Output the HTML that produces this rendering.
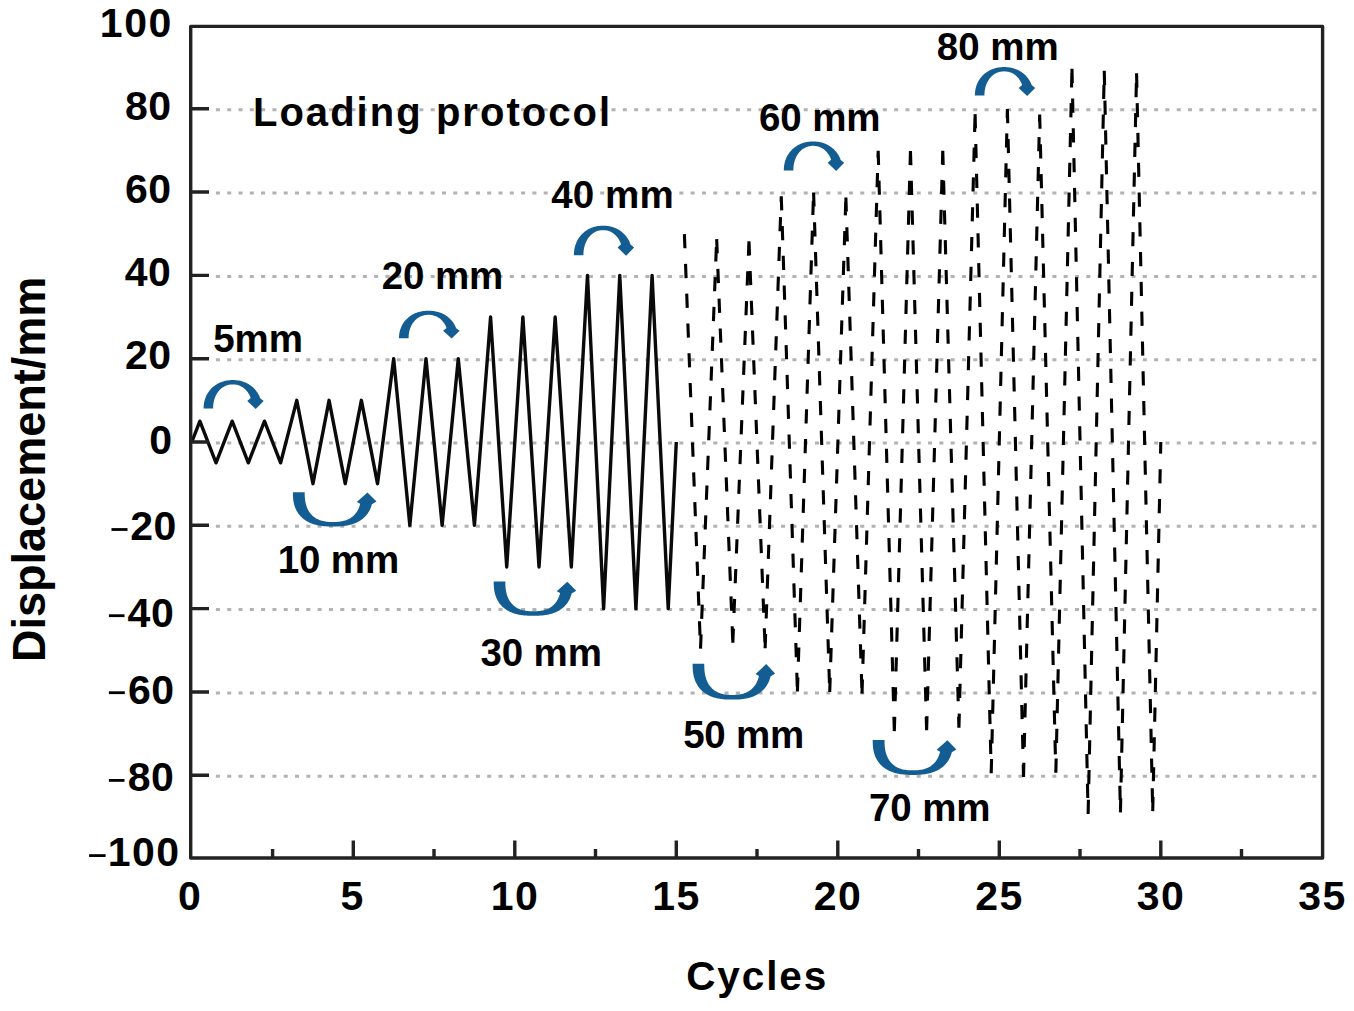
<!DOCTYPE html>
<html><head><meta charset="utf-8"><style>html,body{margin:0;padding:0;background:#fff;overflow:hidden}svg{display:block}</style></head>
<body><svg width="1354" height="1011" viewBox="0 0 1354 1011">
<rect width="1354" height="1011" fill="#fff"/>
<path d="M215.9 109.7H1319 M215.9 193.0H1319 M215.9 276.4H1319 M215.9 359.7H1319 M215.9 443.0H1319 M215.9 526.3H1319 M215.9 609.6H1319 M215.9 693.0H1319 M215.9 776.3H1319" stroke="#b2b2b2" stroke-width="3" stroke-dasharray="4 7.304" fill="none"/>
<polyline points="191.80,442.00 199.88,421.17 216.03,462.83 232.18,421.17 248.32,462.83 264.48,421.17 280.62,462.83 296.77,400.34 312.93,483.66 329.07,400.34 345.23,483.66 361.38,400.34 377.52,483.66 393.67,358.68 409.82,525.32 425.98,358.68 442.12,525.32 458.27,358.68 474.43,525.32 490.57,317.02 506.72,566.98 522.88,317.02 539.02,566.98 555.17,317.02 571.33,566.98 587.47,275.36 603.62,608.64 619.77,275.36 635.92,608.64 652.08,275.36 668.22,608.64 676.30,442.00" stroke="#0a0a0a" stroke-width="3.4" fill="none" stroke-linejoin="round"/>
<path d="M684.38 234.12L700.52 648.63 M700.52 648.63L716.67 239.12 M716.67 239.12L732.83 642.80 M732.83 642.80L748.97 241.20 M748.97 241.20L765.12 648.22 M765.12 648.22L781.27 196.21 M781.27 196.21L797.42 691.54 M797.42 691.54L813.58 192.46 M813.58 192.46L829.72 691.96 M829.72 691.96L845.88 197.46 M845.88 197.46L862.02 693.63 M862.02 693.63L878.17 150.80 M878.17 150.80L894.33 731.12 M894.33 731.12L910.47 151.00 M910.47 151.00L926.62 730.29 M926.62 730.29L942.77 150.80 M942.77 150.80L958.92 727.79 M958.92 727.79L975.08 114.14 M975.08 114.14L991.22 773.20 M991.22 773.20L1007.38 109.14 M1007.38 109.14L1023.52 776.95 M1023.52 776.95L1039.67 114.55 M1039.67 114.55L1055.83 772.78 M1055.83 772.78L1071.97 68.73 M1071.97 68.73L1088.12 814.02 M1088.12 814.02L1104.27 70.81 M1104.27 70.81L1120.42 812.36 M1120.42 812.36L1136.57 73.31 M1136.57 73.31L1152.72 811.11 M1152.72 811.11L1160.80 442.00" stroke="#000" stroke-width="3.1" fill="none" stroke-dasharray="14.2 15.6"/>
<rect x="190.7" y="26.4" width="1131.9" height="831.6" fill="none" stroke="#222" stroke-width="3.4" stroke-linejoin="round"/>
<path d="M190.7 108.7H209 M190.7 192.0H209 M190.7 275.4H209 M190.7 358.7H209 M190.7 442.0H209 M190.7 525.3H209 M190.7 608.6H209 M190.7 692.0H209 M190.7 775.3H209 M353.3 858.0V840.6 M514.8 858.0V840.6 M676.3 858.0V840.6 M837.8 858.0V840.6 M999.3 858.0V840.6 M1160.8 858.0V840.6 M272.6 858.0V849 M434.0 858.0V849 M595.5 858.0V849 M757.0 858.0V849 M918.5 858.0V849 M1080.0 858.0V849 M1241.5 858.0V849" stroke="#222" stroke-width="3.4" fill="none"/>
<polygon points="203.60,408.51 203.62,407.21 203.69,405.99 203.79,404.81 203.94,403.65 204.13,402.52 204.37,401.40 204.64,400.30 204.96,399.23 205.32,398.17 205.72,397.13 206.16,396.11 206.63,395.12 207.15,394.15 207.71,393.20 208.30,392.28 208.93,391.38 209.59,390.51 210.29,389.68 211.03,388.87 211.79,388.09 212.59,387.34 213.42,386.62 214.29,385.94 215.18,385.29 216.09,384.68 217.04,384.10 218.01,383.56 219.01,383.06 220.03,382.59 221.07,382.16 222.14,381.77 223.22,381.43 224.33,381.12 225.46,380.85 226.60,380.62 227.77,380.43 228.95,380.29 230.17,380.18 231.41,380.12 232.75,380.10 234.08,380.12 235.33,380.18 236.54,380.29 237.73,380.43 238.90,380.62 240.04,380.85 241.17,381.12 242.27,381.43 243.36,381.77 244.43,382.16 245.47,382.59 246.49,383.06 247.49,383.56 248.46,384.10 249.40,384.68 250.32,385.29 251.21,385.94 252.07,386.62 252.90,387.34 253.70,388.09 254.47,388.87 255.20,389.68 255.90,390.51 256.57,391.38 257.20,392.28 257.79,393.20 258.35,394.15 258.86,395.12 259.34,396.11 259.78,397.13 260.18,398.17 263.70,400.99 255.71,409.00 247.23,400.99 250.68,397.98 250.36,397.13 250.01,396.31 249.63,395.50 249.23,394.72 248.81,393.96 248.36,393.22 247.89,392.51 247.39,391.82 246.88,391.16 246.34,390.53 245.78,389.92 245.20,389.34 244.60,388.79 243.98,388.27 243.34,387.78 242.68,387.32 242.01,386.89 241.32,386.49 240.62,386.13 239.90,385.80 239.17,385.50 238.42,385.24 237.67,385.01 236.89,384.82 236.11,384.66 235.31,384.54 234.49,384.45 233.65,384.39 232.75,384.38 231.85,384.39 231.01,384.45 230.19,384.54 229.39,384.66 228.60,384.82 227.83,385.01 227.07,385.24 226.33,385.50 225.59,385.80 224.88,386.13 224.17,386.49 223.48,386.89 222.81,387.32 222.16,387.78 221.52,388.27 220.90,388.79 220.30,389.34 219.72,389.92 219.16,390.53 218.62,391.16 218.10,391.82 217.61,392.51 217.14,393.22 216.69,393.96 216.26,394.72 215.86,395.50 215.49,396.31 215.14,397.13 214.82,397.98 214.52,398.84 214.25,399.72 214.01,400.62 213.80,401.54 213.61,402.47 213.46,403.42 213.33,404.39 213.23,405.37 213.15,406.37 213.11,407.40 213.10,408.51" fill="#135d93"/>
<polygon points="292.90,492.20 292.92,494.77 293.00,496.68 293.12,498.39 293.30,499.98 293.52,501.48 293.79,502.91 294.11,504.28 294.48,505.61 294.90,506.88 295.36,508.11 295.88,509.29 296.44,510.44 297.05,511.54 297.70,512.61 298.40,513.63 299.15,514.62 299.95,515.57 300.79,516.48 301.68,517.36 302.61,518.19 303.59,518.99 304.61,519.75 305.68,520.47 306.79,521.15 307.94,521.79 309.14,522.39 310.39,522.95 311.68,523.48 313.02,523.96 314.41,524.39 315.84,524.79 317.33,525.15 318.87,525.47 320.48,525.74 322.15,525.97 323.91,526.16 325.77,526.31 327.77,526.42 329.99,526.48 333.00,526.50 336.01,526.48 338.24,526.42 340.24,526.31 342.09,526.16 343.85,525.97 345.53,525.74 347.13,525.47 348.68,525.15 350.16,524.79 351.60,524.39 352.99,523.96 354.32,523.48 355.62,522.95 356.86,522.39 358.06,521.79 359.22,521.15 360.33,520.47 361.40,519.75 362.42,518.99 363.40,518.19 364.33,517.36 365.21,516.48 366.06,515.57 366.85,514.62 367.60,513.63 368.30,512.61 368.96,511.54 369.57,510.44 370.13,509.29 370.64,508.11 371.11,506.88 371.53,505.61 371.90,504.28 376.50,501.50 367.50,492.50 356.75,501.90 360.19,503.85 359.89,504.95 359.56,506.02 359.20,507.05 358.81,508.04 358.38,509.00 357.91,509.93 357.42,510.82 356.89,511.68 356.33,512.51 355.73,513.30 355.11,514.06 354.45,514.78 353.76,515.48 353.04,516.14 352.29,516.76 351.50,517.35 350.69,517.91 349.84,518.43 348.96,518.92 348.05,519.37 347.10,519.79 346.13,520.17 345.11,520.52 344.06,520.83 342.97,521.10 341.84,521.34 340.66,521.54 339.42,521.71 338.11,521.83 336.70,521.93 335.13,521.98 333.00,522.00 330.88,521.98 329.31,521.93 327.90,521.83 326.59,521.71 325.35,521.54 324.17,521.34 323.03,521.10 321.94,520.83 320.89,520.52 319.88,520.17 318.90,519.79 317.96,519.37 317.05,518.92 316.17,518.43 315.32,517.91 314.50,517.35 313.72,516.76 312.97,516.14 312.25,515.48 311.56,514.78 310.90,514.06 310.27,513.30 309.68,512.51 309.12,511.68 308.59,510.82 308.09,509.93 307.63,509.00 307.20,508.04 306.80,507.05 306.44,506.02 306.11,504.95 305.82,503.85 305.56,502.70 305.33,501.51 305.14,500.26 304.98,498.96 304.86,497.57 304.77,496.09 304.72,494.44 304.70,492.20" fill="#135d93"/>
<polygon points="399.00,338.13 399.02,336.87 399.09,335.70 399.19,334.56 399.35,333.44 399.54,332.34 399.78,331.26 400.05,330.20 400.37,329.16 400.74,328.14 401.14,327.14 401.58,326.16 402.06,325.20 402.59,324.26 403.15,323.35 403.75,322.46 404.38,321.59 405.05,320.75 405.76,319.94 406.50,319.16 407.28,318.41 408.08,317.69 408.92,317.00 409.79,316.34 410.69,315.71 411.62,315.12 412.57,314.56 413.56,314.04 414.56,313.55 415.59,313.10 416.65,312.69 417.72,312.32 418.82,311.98 419.94,311.68 421.07,311.42 422.23,311.20 423.41,311.02 424.61,310.88 425.83,310.78 427.09,310.72 428.44,310.70 429.79,310.72 431.05,310.78 432.27,310.88 433.47,311.02 434.65,311.20 435.80,311.42 436.94,311.68 438.06,311.98 439.16,312.32 440.23,312.69 441.29,313.10 442.32,313.55 443.32,314.04 444.30,314.56 445.26,315.12 446.19,315.71 447.09,316.34 447.96,317.00 448.80,317.69 449.60,318.41 450.38,319.16 451.12,319.94 451.83,320.75 452.50,321.59 453.13,322.46 453.73,323.35 454.29,324.26 454.81,325.20 455.30,326.16 455.74,327.14 456.14,328.14 459.70,330.87 451.63,338.60 443.07,330.87 446.55,327.96 446.22,327.14 445.87,326.35 445.49,325.57 445.09,324.82 444.66,324.08 444.21,323.37 443.73,322.68 443.23,322.02 442.71,321.38 442.16,320.77 441.60,320.18 441.01,319.62 440.41,319.09 439.78,318.58 439.14,318.11 438.47,317.67 437.80,317.25 437.10,316.87 436.39,316.52 435.67,316.20 434.93,315.92 434.17,315.66 433.41,315.44 432.63,315.26 431.83,315.10 431.02,314.98 430.20,314.90 429.35,314.85 428.44,314.83 427.53,314.85 426.68,314.90 425.86,314.98 425.05,315.10 424.25,315.26 423.47,315.44 422.71,315.66 421.95,315.92 421.21,316.20 420.49,316.52 419.78,316.87 419.08,317.25 418.40,317.67 417.74,318.11 417.10,318.58 416.47,319.09 415.87,319.62 415.28,320.18 414.72,320.77 414.17,321.38 413.65,322.02 413.15,322.68 412.67,323.37 412.22,324.08 411.79,324.82 411.39,325.57 411.01,326.35 410.66,327.14 410.33,327.96 410.03,328.79 409.76,329.64 409.52,330.51 409.30,331.40 409.11,332.30 408.95,333.21 408.82,334.14 408.72,335.09 408.65,336.06 408.61,337.06 408.59,338.13" fill="#135d93"/>
<polygon points="493.70,581.40 493.72,583.98 493.80,585.89 493.92,587.60 494.09,589.20 494.31,590.71 494.58,592.14 494.89,593.52 495.26,594.84 495.67,596.12 496.13,597.35 496.64,598.54 497.19,599.69 497.79,600.80 498.44,601.87 499.13,602.90 499.87,603.89 500.66,604.84 501.49,605.76 502.36,606.63 503.28,607.47 504.25,608.27 505.26,609.03 506.31,609.75 507.41,610.44 508.55,611.08 509.73,611.68 510.96,612.24 512.23,612.77 513.55,613.25 514.92,613.69 516.34,614.09 517.81,614.45 519.33,614.76 520.92,615.04 522.57,615.27 524.30,615.46 526.14,615.61 528.11,615.72 530.31,615.78 533.28,615.80 536.24,615.78 538.44,615.72 540.41,615.61 542.25,615.46 543.98,615.27 545.63,615.04 547.22,614.76 548.74,614.45 550.21,614.09 551.63,613.69 553.00,613.25 554.32,612.77 555.59,612.24 556.82,611.68 558.00,611.08 559.15,610.44 560.24,609.75 561.29,609.03 562.30,608.27 563.27,607.47 564.19,606.63 565.06,605.76 565.89,604.84 566.68,603.89 567.42,602.90 568.11,601.87 568.76,600.80 569.36,599.69 569.91,598.54 570.42,597.35 570.88,596.12 571.29,594.84 571.66,593.52 576.20,590.73 567.31,581.70 556.71,591.13 560.10,593.08 559.81,594.19 559.49,595.26 559.13,596.29 558.74,597.29 558.31,598.25 557.86,599.18 557.37,600.08 556.85,600.94 556.29,601.76 555.71,602.56 555.09,603.32 554.44,604.05 553.76,604.74 553.05,605.41 552.30,606.03 551.53,606.63 550.73,607.18 549.89,607.71 549.02,608.20 548.12,608.65 547.19,609.07 546.23,609.45 545.23,609.80 544.19,610.11 543.11,610.39 542.00,610.62 540.83,610.83 539.61,610.99 538.31,611.12 536.92,611.21 535.37,611.27 533.28,611.29 531.18,611.27 529.63,611.21 528.24,611.12 526.94,610.99 525.72,610.83 524.55,610.62 523.44,610.39 522.36,610.11 521.32,609.80 520.32,609.45 519.36,609.07 518.43,608.65 517.53,608.20 516.66,607.71 515.82,607.18 515.02,606.63 514.25,606.03 513.50,605.41 512.79,604.74 512.11,604.05 511.46,603.32 510.84,602.56 510.26,601.76 509.70,600.94 509.18,600.08 508.69,599.18 508.24,598.25 507.81,597.29 507.42,596.29 507.06,595.26 506.74,594.19 506.45,593.08 506.19,591.93 505.97,590.73 505.78,589.48 505.62,588.18 505.50,586.79 505.42,585.30 505.37,583.64 505.35,581.40" fill="#135d93"/>
<polygon points="573.90,255.19 573.92,253.84 573.99,252.58 574.09,251.35 574.24,250.15 574.43,248.97 574.67,247.81 574.94,246.67 575.26,245.55 575.62,244.45 576.02,243.38 576.46,242.32 576.94,241.29 577.46,240.28 578.01,239.30 578.61,238.34 579.24,237.41 579.90,236.51 580.60,235.64 581.34,234.80 582.11,233.99 582.91,233.21 583.74,232.47 584.60,231.76 585.50,231.09 586.42,230.45 587.36,229.85 588.34,229.29 589.33,228.77 590.36,228.29 591.40,227.84 592.47,227.44 593.56,227.08 594.66,226.76 595.79,226.48 596.94,226.24 598.11,226.05 599.30,225.89 600.51,225.79 601.76,225.72 603.10,225.70 604.43,225.72 605.68,225.79 606.90,225.89 608.09,226.05 609.25,226.24 610.40,226.48 611.53,226.76 612.64,227.08 613.73,227.44 614.79,227.84 615.84,228.29 616.86,228.77 617.86,229.29 618.83,229.85 619.78,230.45 620.70,231.09 621.59,231.76 622.45,232.47 623.28,233.21 624.09,233.99 624.85,234.80 625.59,235.64 626.29,236.51 626.96,237.41 627.59,238.34 628.18,239.30 628.74,240.28 629.26,241.29 629.73,242.32 630.17,243.38 630.57,244.45 634.10,247.39 626.09,255.70 617.61,247.39 621.06,244.26 620.73,243.38 620.38,242.53 620.01,241.69 619.61,240.88 619.18,240.09 618.74,239.32 618.26,238.58 617.77,237.87 617.25,237.18 616.71,236.52 616.15,235.89 615.57,235.29 614.96,234.72 614.34,234.18 613.71,233.67 613.05,233.19 612.38,232.75 611.69,232.34 610.98,231.96 610.26,231.62 609.53,231.31 608.78,231.04 608.02,230.80 607.25,230.60 606.46,230.43 605.66,230.31 604.84,230.21 604.00,230.16 603.10,230.14 602.20,230.16 601.35,230.21 600.53,230.31 599.73,230.43 598.95,230.60 598.17,230.80 597.41,231.04 596.66,231.31 595.93,231.62 595.21,231.96 594.51,232.34 593.82,232.75 593.14,233.19 592.49,233.67 591.85,234.18 591.23,234.72 590.63,235.29 590.05,235.89 589.49,236.52 588.95,237.18 588.43,237.87 587.93,238.58 587.46,239.32 587.01,240.09 586.58,240.88 586.18,241.69 585.81,242.53 585.46,243.38 585.14,244.26 584.84,245.16 584.57,246.07 584.33,247.00 584.12,247.95 583.93,248.92 583.77,249.91 583.64,250.91 583.54,251.93 583.47,252.97 583.43,254.04 583.41,255.19" fill="#135d93"/>
<polygon points="692.60,663.80 692.62,666.49 692.70,668.47 692.82,670.26 692.99,671.92 693.21,673.48 693.48,674.98 693.79,676.41 694.16,677.79 694.57,679.12 695.03,680.40 695.54,681.64 696.09,682.83 696.69,683.99 697.34,685.10 698.03,686.17 698.77,687.20 699.56,688.19 700.39,689.15 701.26,690.06 702.18,690.93 703.15,691.76 704.16,692.56 705.21,693.31 706.31,694.02 707.45,694.69 708.63,695.31 709.86,695.90 711.13,696.44 712.45,696.94 713.82,697.40 715.24,697.82 716.71,698.19 718.23,698.52 719.82,698.81 721.47,699.05 723.20,699.25 725.04,699.40 727.01,699.51 729.21,699.58 732.18,699.60 735.14,699.58 737.34,699.51 739.31,699.40 741.15,699.25 742.88,699.05 744.53,698.81 746.12,698.52 747.64,698.19 749.11,697.82 750.53,697.40 751.90,696.94 753.22,696.44 754.49,695.90 755.72,695.31 756.90,694.69 758.05,694.02 759.14,693.31 760.19,692.56 761.20,691.76 762.17,690.93 763.09,690.06 763.96,689.15 764.79,688.19 765.58,687.20 766.32,686.17 767.01,685.10 767.66,683.99 768.26,682.83 768.81,681.64 769.32,680.40 769.78,679.12 770.19,677.79 770.56,676.41 775.10,673.51 766.21,664.11 755.61,673.92 759.00,675.96 758.71,677.11 758.39,678.22 758.03,679.30 757.64,680.34 757.21,681.34 756.76,682.30 756.27,683.24 755.75,684.13 755.19,684.99 754.61,685.82 753.99,686.61 753.34,687.37 752.66,688.09 751.95,688.78 751.20,689.44 750.43,690.05 749.63,690.63 748.79,691.18 747.92,691.69 747.02,692.16 746.09,692.60 745.13,692.99 744.13,693.36 743.09,693.68 742.01,693.97 740.90,694.21 739.73,694.42 738.51,694.60 737.21,694.73 735.82,694.83 734.27,694.88 732.18,694.90 730.08,694.88 728.53,694.83 727.14,694.73 725.84,694.60 724.62,694.42 723.45,694.21 722.34,693.97 721.26,693.68 720.22,693.36 719.22,692.99 718.26,692.60 717.33,692.16 716.43,691.69 715.56,691.18 714.72,690.63 713.92,690.05 713.15,689.44 712.40,688.78 711.69,688.09 711.01,687.37 710.36,686.61 709.74,685.82 709.16,684.99 708.60,684.13 708.08,683.24 707.59,682.30 707.14,681.34 706.71,680.34 706.32,679.30 705.96,678.22 705.64,677.11 705.35,675.96 705.09,674.76 704.87,673.51 704.68,672.21 704.52,670.85 704.40,669.41 704.32,667.86 704.27,666.13 704.25,663.80" fill="#135d93"/>
<polygon points="783.80,170.40 783.82,169.08 783.89,167.84 783.99,166.64 784.14,165.46 784.34,164.31 784.57,163.17 784.85,162.05 785.17,160.96 785.53,159.88 785.93,158.82 786.37,157.79 786.85,156.78 787.37,155.79 787.93,154.83 788.52,153.89 789.15,152.98 789.82,152.10 790.53,151.24 791.26,150.42 792.04,149.62 792.84,148.86 793.67,148.14 794.54,147.44 795.43,146.78 796.36,146.16 797.31,145.57 798.28,145.02 799.29,144.51 800.31,144.03 801.36,143.60 802.43,143.20 803.52,142.85 804.63,142.53 805.76,142.26 806.92,142.03 808.09,141.84 809.28,141.69 810.50,141.58 811.75,141.52 813.09,141.50 814.44,141.52 815.69,141.58 816.91,141.69 818.10,141.84 819.27,142.03 820.42,142.26 821.55,142.53 822.67,142.85 823.76,143.20 824.83,143.60 825.88,144.03 826.90,144.51 827.90,145.02 828.88,145.57 829.83,146.16 830.75,146.78 831.65,147.44 832.51,148.14 833.35,148.86 834.15,149.62 834.92,150.42 835.66,151.24 836.37,152.10 837.03,152.98 837.67,153.89 838.26,154.83 838.82,155.79 839.34,156.78 839.82,157.79 840.26,158.82 840.66,159.88 844.20,162.76 836.17,170.90 827.65,162.76 831.11,159.69 830.79,158.83 830.44,157.99 830.06,157.17 829.66,156.37 829.23,155.60 828.78,154.85 828.31,154.13 827.81,153.43 827.29,152.75 826.75,152.11 826.19,151.49 825.60,150.90 825.00,150.34 824.38,149.81 823.74,149.31 823.08,148.84 822.40,148.41 821.71,148.00 821.01,147.63 820.28,147.30 819.55,147.00 818.80,146.73 818.04,146.50 817.26,146.30 816.47,146.14 815.66,146.01 814.84,145.92 814.00,145.87 813.09,145.85 812.19,145.87 811.34,145.92 810.52,146.01 809.72,146.14 808.93,146.30 808.15,146.50 807.39,146.73 806.64,147.00 805.90,147.30 805.18,147.63 804.48,148.00 803.78,148.41 803.11,148.84 802.45,149.31 801.81,149.81 801.19,150.34 800.58,150.90 800.00,151.49 799.44,152.11 798.90,152.75 798.38,153.43 797.88,154.13 797.40,154.85 796.95,155.60 796.53,156.37 796.13,157.17 795.75,157.99 795.40,158.83 795.07,159.69 794.78,160.57 794.51,161.46 794.26,162.38 794.05,163.31 793.86,164.26 793.70,165.22 793.57,166.21 793.47,167.21 793.40,168.23 793.36,169.28 793.34,170.40" fill="#135d93"/>
<polygon points="872.70,740.00 872.72,742.62 872.80,744.56 872.92,746.29 873.10,747.91 873.32,749.44 873.59,750.90 873.91,752.30 874.28,753.64 874.70,754.93 875.16,756.18 875.68,757.39 876.24,758.56 876.85,759.68 877.51,760.76 878.21,761.81 878.96,762.81 879.76,763.78 880.60,764.71 881.49,765.60 882.42,766.45 883.40,767.26 884.42,768.03 885.49,768.76 886.60,769.46 887.76,770.11 888.96,770.72 890.21,771.29 891.50,771.82 892.84,772.31 894.23,772.76 895.67,773.16 897.16,773.53 898.70,773.85 900.31,774.13 901.99,774.36 903.75,774.56 905.61,774.71 907.61,774.81 909.84,774.88 912.85,774.90 915.86,774.88 918.09,774.81 920.09,774.71 921.95,774.56 923.71,774.36 925.39,774.13 927.00,773.85 928.54,773.53 930.03,773.16 931.47,772.76 932.86,772.31 934.20,771.82 935.49,771.29 936.74,770.72 937.94,770.11 939.10,769.46 940.21,768.76 941.28,768.03 942.30,767.26 943.28,766.45 944.21,765.60 945.10,764.71 945.94,763.78 946.74,762.81 947.49,761.81 948.19,760.76 948.85,759.68 949.46,758.56 950.02,757.39 950.54,756.18 951.00,754.93 951.42,753.64 951.79,752.30 956.40,749.46 947.39,740.30 936.63,749.87 940.07,751.85 939.77,752.98 939.44,754.06 939.08,755.11 938.68,756.12 938.25,757.10 937.79,758.04 937.29,758.95 936.76,759.82 936.20,760.66 935.61,761.47 934.98,762.24 934.32,762.98 933.63,763.68 932.91,764.35 932.16,764.99 931.37,765.59 930.56,766.16 929.71,766.69 928.83,767.19 927.91,767.65 926.97,768.07 925.99,768.46 924.98,768.81 923.92,769.13 922.83,769.41 921.70,769.65 920.52,769.85 919.27,770.02 917.96,770.15 916.55,770.25 914.98,770.30 912.85,770.32 910.73,770.30 909.15,770.25 907.74,770.15 906.43,770.02 905.19,769.85 904.00,769.65 902.87,769.41 901.78,769.13 900.73,768.81 899.71,768.46 898.73,768.07 897.79,767.65 896.88,767.19 895.99,766.69 895.15,766.16 894.33,765.59 893.55,764.99 892.79,764.35 892.07,763.68 891.38,762.98 890.72,762.24 890.09,761.47 889.50,760.66 888.94,759.82 888.41,758.95 887.91,758.04 887.45,757.10 887.02,756.12 886.62,755.11 886.26,754.06 885.93,752.98 885.63,751.85 885.37,750.68 885.15,749.47 884.95,748.20 884.80,746.87 884.68,745.47 884.59,743.96 884.54,742.27 884.52,740.00" fill="#135d93"/>
<polygon points="974.90,95.41 974.92,94.11 974.99,92.90 975.09,91.73 975.24,90.57 975.44,89.44 975.67,88.33 975.95,87.23 976.26,86.16 976.62,85.10 977.02,84.07 977.46,83.06 977.94,82.07 978.46,81.10 979.02,80.15 979.61,79.24 980.25,78.34 980.91,77.48 981.62,76.64 982.35,75.84 983.12,75.06 983.92,74.31 984.76,73.60 985.62,72.92 986.51,72.27 987.44,71.66 988.39,71.09 989.36,70.55 990.36,70.05 991.38,69.58 992.43,69.16 993.50,68.77 994.59,68.42 995.70,68.11 996.83,67.85 997.98,67.62 999.15,67.43 1000.34,67.29 1001.56,67.18 1002.81,67.12 1004.15,67.10 1005.49,67.12 1006.74,67.18 1007.95,67.29 1009.14,67.43 1010.31,67.62 1011.46,67.85 1012.59,68.11 1013.70,68.42 1014.79,68.77 1015.86,69.16 1016.91,69.58 1017.93,70.05 1018.93,70.55 1019.91,71.09 1020.85,71.66 1021.78,72.27 1022.67,72.92 1023.53,73.60 1024.37,74.31 1025.17,75.06 1025.94,75.84 1026.68,76.64 1027.38,77.48 1028.05,78.34 1028.68,79.24 1029.27,80.15 1029.83,81.10 1030.35,82.07 1030.83,83.06 1031.27,84.07 1031.67,85.10 1035.20,87.92 1027.18,95.90 1018.68,87.92 1022.13,84.92 1021.81,84.07 1021.46,83.25 1021.09,82.45 1020.69,81.67 1020.26,80.91 1019.81,80.18 1019.34,79.47 1018.84,78.78 1018.32,78.12 1017.78,77.49 1017.22,76.88 1016.63,76.31 1016.03,75.76 1015.41,75.24 1014.77,74.75 1014.11,74.29 1013.44,73.87 1012.75,73.47 1012.04,73.11 1011.32,72.78 1010.59,72.48 1009.84,72.22 1009.08,72.00 1008.30,71.80 1007.51,71.64 1006.71,71.52 1005.89,71.43 1005.05,71.38 1004.15,71.36 1003.24,71.38 1002.40,71.43 1001.58,71.52 1000.78,71.64 999.99,71.80 999.21,72.00 998.45,72.22 997.70,72.48 996.97,72.78 996.25,73.11 995.54,73.47 994.85,73.87 994.18,74.29 993.52,74.75 992.88,75.24 992.26,75.76 991.66,76.31 991.07,76.88 990.51,77.49 989.97,78.12 989.45,78.78 988.95,79.47 988.48,80.18 988.03,80.91 987.61,81.67 987.20,82.45 986.83,83.25 986.48,84.07 986.16,84.92 985.86,85.78 985.59,86.66 985.35,87.55 985.13,88.46 984.95,89.39 984.79,90.34 984.66,91.30 984.56,92.28 984.49,93.28 984.44,94.31 984.43,95.41" fill="#135d93"/>
<text x="136.3" y="37.0" font-size="41" text-anchor="middle" style="font-family:'Liberation Sans',sans-serif;font-weight:bold" letter-spacing="1.5">100</text>
<text x="148.2" y="120.0" font-size="41" text-anchor="middle" style="font-family:'Liberation Sans',sans-serif;font-weight:bold" letter-spacing="0.5">80</text>
<text x="148.2" y="203.0" font-size="41" text-anchor="middle" style="font-family:'Liberation Sans',sans-serif;font-weight:bold" letter-spacing="0.5">60</text>
<text x="148.1" y="285.9" font-size="41" text-anchor="middle" style="font-family:'Liberation Sans',sans-serif;font-weight:bold" letter-spacing="0.5">40</text>
<text x="148.3" y="369.0" font-size="41" text-anchor="middle" style="font-family:'Liberation Sans',sans-serif;font-weight:bold" letter-spacing="0.5">20</text>
<text x="160.8" y="453.9" font-size="41" text-anchor="middle" style="font-family:'Liberation Sans',sans-serif;font-weight:bold" letter-spacing="0.5">0</text>
<text x="153.6" y="539.9" font-size="41" text-anchor="middle" style="font-family:'Liberation Sans',sans-serif;font-weight:bold" letter-spacing="0.5">20</text>
<rect x="111.5" y="528.1" width="16.0" height="2.8" fill="#000"/>
<text x="150.9" y="626.5" font-size="41" text-anchor="middle" style="font-family:'Liberation Sans',sans-serif;font-weight:bold" letter-spacing="0.5">40</text>
<rect x="108.9" y="614.3" width="15.6" height="2.8" fill="#000"/>
<text x="151.3" y="703.6" font-size="41" text-anchor="middle" style="font-family:'Liberation Sans',sans-serif;font-weight:bold" letter-spacing="0.5">60</text>
<rect x="108.9" y="691.3" width="15.9" height="2.8" fill="#000"/>
<text x="151.1" y="791.3" font-size="41" text-anchor="middle" style="font-family:'Liberation Sans',sans-serif;font-weight:bold" letter-spacing="0.5">80</text>
<rect x="108.9" y="779.0" width="15.6" height="2.8" fill="#000"/>
<text x="144.2" y="866.0" font-size="41" text-anchor="middle" style="font-family:'Liberation Sans',sans-serif;font-weight:bold" letter-spacing="1.5">100</text>
<rect x="89.1" y="854.2" width="16.5" height="2.8" fill="#000"/>
<text x="189.5" y="909.9" font-size="41" text-anchor="middle" style="font-family:'Liberation Sans',sans-serif;font-weight:bold" letter-spacing="0">0</text>
<text x="351.8" y="909.9" font-size="41" text-anchor="middle" style="font-family:'Liberation Sans',sans-serif;font-weight:bold" letter-spacing="0">5</text>
<text x="515.0" y="909.9" font-size="41" text-anchor="middle" style="font-family:'Liberation Sans',sans-serif;font-weight:bold" letter-spacing="1.5">10</text>
<text x="676.5" y="909.9" font-size="41" text-anchor="middle" style="font-family:'Liberation Sans',sans-serif;font-weight:bold" letter-spacing="1.5">15</text>
<text x="838.0" y="909.9" font-size="41" text-anchor="middle" style="font-family:'Liberation Sans',sans-serif;font-weight:bold" letter-spacing="1.5">20</text>
<text x="999.5" y="909.9" font-size="41" text-anchor="middle" style="font-family:'Liberation Sans',sans-serif;font-weight:bold" letter-spacing="1.5">25</text>
<text x="1161.0" y="909.9" font-size="41" text-anchor="middle" style="font-family:'Liberation Sans',sans-serif;font-weight:bold" letter-spacing="1.5">30</text>
<text x="1322.5" y="909.9" font-size="41" text-anchor="middle" style="font-family:'Liberation Sans',sans-serif;font-weight:bold" letter-spacing="1.5">35</text>
<text x="686.2" y="990.0" font-size="40.5" text-anchor="start" style="font-family:'Liberation Sans',sans-serif;font-weight:bold" letter-spacing="1.9">Cycles</text>
<text transform="translate(44.5 662.0) rotate(-90) scale(0.979 1)" x="0" y="0" font-size="46" style="font-family:'Liberation Sans',sans-serif;font-weight:bold">Displacement/mm</text>
<text x="252.9" y="126.2" font-size="40" style="font-family:'Liberation Sans',sans-serif;font-weight:bold" textLength="357.3" lengthAdjust="spacing">Loading protocol</text>
<text x="213.2" y="352.4" font-size="38.5" style="font-family:'Liberation Sans',sans-serif;font-weight:bold" textLength="89.7" lengthAdjust="spacing">5mm</text>
<text x="277.7" y="573.0" font-size="38.5" style="font-family:'Liberation Sans',sans-serif;font-weight:bold" textLength="121.5" lengthAdjust="spacing">10 mm</text>
<text x="381.8" y="288.7" font-size="38.5" style="font-family:'Liberation Sans',sans-serif;font-weight:bold" textLength="121.5" lengthAdjust="spacing">20 mm</text>
<text x="480.4" y="665.5" font-size="38.5" style="font-family:'Liberation Sans',sans-serif;font-weight:bold" textLength="121.5" lengthAdjust="spacing">30 mm</text>
<text x="551.2" y="207.6" font-size="38.5" style="font-family:'Liberation Sans',sans-serif;font-weight:bold" textLength="122.5" lengthAdjust="spacing">40 mm</text>
<text x="683.2" y="747.9" font-size="38.5" style="font-family:'Liberation Sans',sans-serif;font-weight:bold" textLength="121.0" lengthAdjust="spacing">50 mm</text>
<text x="759.0" y="130.9" font-size="38.5" style="font-family:'Liberation Sans',sans-serif;font-weight:bold" textLength="121.5" lengthAdjust="spacing">60 mm</text>
<text x="869.0" y="820.8" font-size="38.5" style="font-family:'Liberation Sans',sans-serif;font-weight:bold" textLength="121.5" lengthAdjust="spacing">70 mm</text>
<text x="936.8" y="60.4" font-size="38.5" style="font-family:'Liberation Sans',sans-serif;font-weight:bold" textLength="121.9" lengthAdjust="spacing">80 mm</text>
</svg></body></html>
